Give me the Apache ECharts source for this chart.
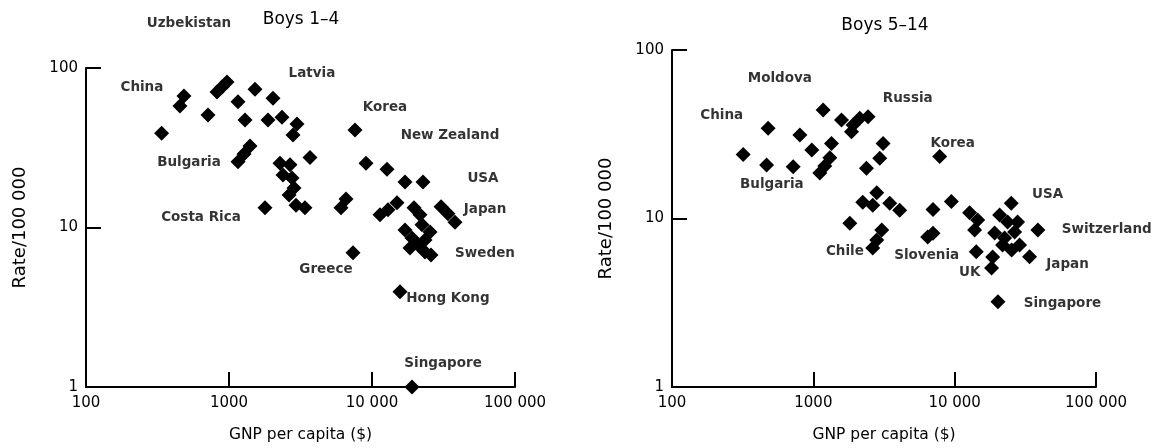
<!DOCTYPE html>
<html>
<head>
<meta charset="utf-8">
<script src="https://cdn.jsdelivr.net/npm/echarts@6/dist/echarts.min.js"></script>
<style>html,body{margin:0;padding:0;background:#fff}#c{width:1152px;height:448px}</style>
</head>
<body>
<div id="c"></div>
<script>
// ---- Data: Boys 1–4 ----
const young_gnp  = [484, 454, 338, 713, 824, 893, 968, 1156, 1520, 2031, 1294, 1874, 2348, 2990, 2803, 3685, 1156, 1273, 1402, 2274, 2671, 2386, 2758, 2849, 2630, 2942, 3398, 1786, 7607, 9078, 12735, 17010, 22730, 6577, 6072, 11370, 12941, 14962, 19670, 21670, 30400, 33980, 38040, 17010, 19050, 20990, 23470, 25460, 23470, 25870, 18440, 22380, 7365, 15700, 19050];
const young_rate = [66.8, 57.8, 39.0, 50.7, 70.7, 76, 81.7, 61.5, 73.5, 64.6, 47.2, 47.2, 49.1, 44.6, 38.0, 27.5, 25.8, 28.9, 32.4, 25.3, 24.7, 21.3, 20.4, 17.7, 16.0, 13.8, 13.3, 13.3, 40.8, 25.3, 23.2, 19.3, 19.3, 15.1, 13.3, 12.0, 12.9, 14.3, 13.3, 12.0, 13.5, 12.2, 10.8, 9.64, 8.59, 7.77, 8.35, 9.37, 7.02, 6.73, 7.43, 10.4, 6.95, 3.96, 1.0];
const young_labels = ['Uzbekistan', 'China', 'Latvia', 'Korea', 'New Zealand', 'USA', 'Japan', 'Sweden', 'Hong Kong', 'Singapore', 'Greece', 'Costa Rica', 'Bulgaria'];
const young_label_gnp  = [525, 246, 3802, 12330, 35100, 59700, 61700, 61700, 33960, 31400, 4764, 637, 525];
const young_label_rate = [191, 76, 93, 56.9, 37.5, 20.2, 12.9, 6.92, 3.57, 1.41, 5.42, 11.5, 25.4];

// ---- Data: Boys 5–14 ----
const older_gnp  = [319, 479, 467, 720, 1173, 803, 976, 1344, 1308, 1206, 1111, 1583, 1911, 1862, 2131, 2440, 3114, 2376, 2951, 2238, 2810, 2633, 3473, 4085, 1811, 3048, 2810, 2633, 7834, 7027, 9480, 7027, 6446, 12760, 14550, 13840, 14220, 18570, 18250, 25150, 20800, 23700, 19180, 22540, 26550, 28780, 25290, 21830, 27870, 38800, 33880, 20230];
const older_rate = [24.0, 34.3, 20.8, 20.3, 44.1, 31.3, 25.5, 27.9, 22.9, 20.5, 18.6, 38.4, 35.9, 32.7, 39.3, 40.2, 27.9, 19.9, 22.8, 12.5, 14.2, 12.0, 12.3, 11.2, 9.37, 8.55, 7.45, 6.68, 23.3, 11.3, 12.6, 8.17, 7.77, 10.8, 9.80, 8.55, 6.35, 5.91, 5.08, 12.3, 10.5, 9.53, 8.20, 7.66, 8.32, 6.96, 6.50, 6.96, 9.53, 8.55, 5.93, 3.21];
const older_labels = ['Moldova', 'China', 'Russia', 'Korea', 'Bulgaria', 'USA', 'Switzerland', 'Slovenia', 'Chile', 'UK', 'Japan', 'Singapore'];
const older_label_gnp  = [579, 225, 4656, 9680, 509, 45400, 119000, 6340, 1671, 12760, 62900, 57900];
const older_label_rate = [67.3, 41.1, 51.2, 28.0, 16.0, 13.96, 8.6, 6.07, 6.41, 4.81, 5.30, 3.15];

const titles = ['Boys 1\u20134', 'Boys 5\u201314'];
const xTicks = {100: '100', 1000: '1000', 10000: '10 000', 100000: '100 000'};

const FONT = 'DejaVu Sans, sans-serif';
const zip = (a, b) => a.map((v, i) => [v, b[i]]);
const zip3 = (a, b, n) => a.map((v, i) => [v, b[i], n[i]]);

function xAxisCfg(gi) {
  return {
    type: 'log', logBase: 10, min: 100, max: 100000, gridIndex: gi,
    name: 'GNP per capita ($)', nameLocation: 'middle', nameGap: 40,
    nameTextStyle: {fontFamily: FONT, fontSize: 15.5, color: '#000'},
    axisLine: {lineStyle: {color: '#000', width: 2}},
    axisTick: {inside: true, length: 15, lineStyle: {color: '#000', width: 2}},
    axisLabel: {fontFamily: FONT, fontSize: 15, color: '#000', margin: 9,
      formatter: v => xTicks[Math.round(v)] || ''},
    splitLine: {show: false}, minorTick: {show: false}
  };
}
function yAxisCfg(gi) {
  return {
    type: 'log', logBase: 10, min: 1, max: 100, gridIndex: gi,
    name: 'Rate/100 000', nameLocation: 'middle', nameGap: 57,
    nameTextStyle: {fontFamily: FONT, fontSize: 18, color: '#000'},
    axisLine: {lineStyle: {color: '#000', width: 2}},
    axisTick: {inside: true, length: 15, lineStyle: {color: '#000', width: 2}},
    axisLabel: {fontFamily: FONT, fontSize: 15, color: '#000', margin: 8},
    splitLine: {show: false}, minorTick: {show: false}
  };
}
function pointSeries(gi, data) {
  return {
    type: 'scatter', xAxisIndex: gi, yAxisIndex: gi, data: data,
    symbol: 'diamond', symbolSize: [15, 15],
    itemStyle: {color: '#000', opacity: 1}, silent: true, animation: false
  };
}
function labelSeries(gi, data) {
  return {
    type: 'scatter', xAxisIndex: gi, yAxisIndex: gi, data: data,
    symbolSize: 1, itemStyle: {color: 'rgba(0,0,0,0)'}, clip: false,
    label: {show: true, position: 'inside', formatter: p => p.data[2],
      fontFamily: FONT, fontSize: 13.5, fontWeight: 'bold', color: '#000'},
    silent: true, animation: false
  };
}

const chart = echarts.init(document.getElementById('c'), null, {renderer: 'canvas'});
chart.setOption({
  backgroundColor: '#fff',
  animation: false,
  title: [
    {text: titles[0], left: 296, top: 6, textAlign: 'center', textStyle: {fontFamily: FONT, fontSize: 17, fontWeight: 'normal', color: '#000'}},
    {text: titles[1], left: 880, top: 12, textAlign: 'center', textStyle: {fontFamily: FONT, fontSize: 17, fontWeight: 'normal', color: '#000'}}
  ],
  grid: [
    {left: 86, right: 637, top: 68, bottom: 61},
    {left: 672, right: 56, top: 50, bottom: 61}
  ],
  xAxis: [xAxisCfg(0), xAxisCfg(1)],
  yAxis: [yAxisCfg(0), yAxisCfg(1)],
  series: [
    pointSeries(0, zip(young_gnp, young_rate)),
    pointSeries(1, zip(older_gnp, older_rate)),
    labelSeries(0, zip3(young_label_gnp, young_label_rate, young_labels)),
    labelSeries(1, zip3(older_label_gnp, older_label_rate, older_labels))
  ]
});
</script>
</body>
</html>
